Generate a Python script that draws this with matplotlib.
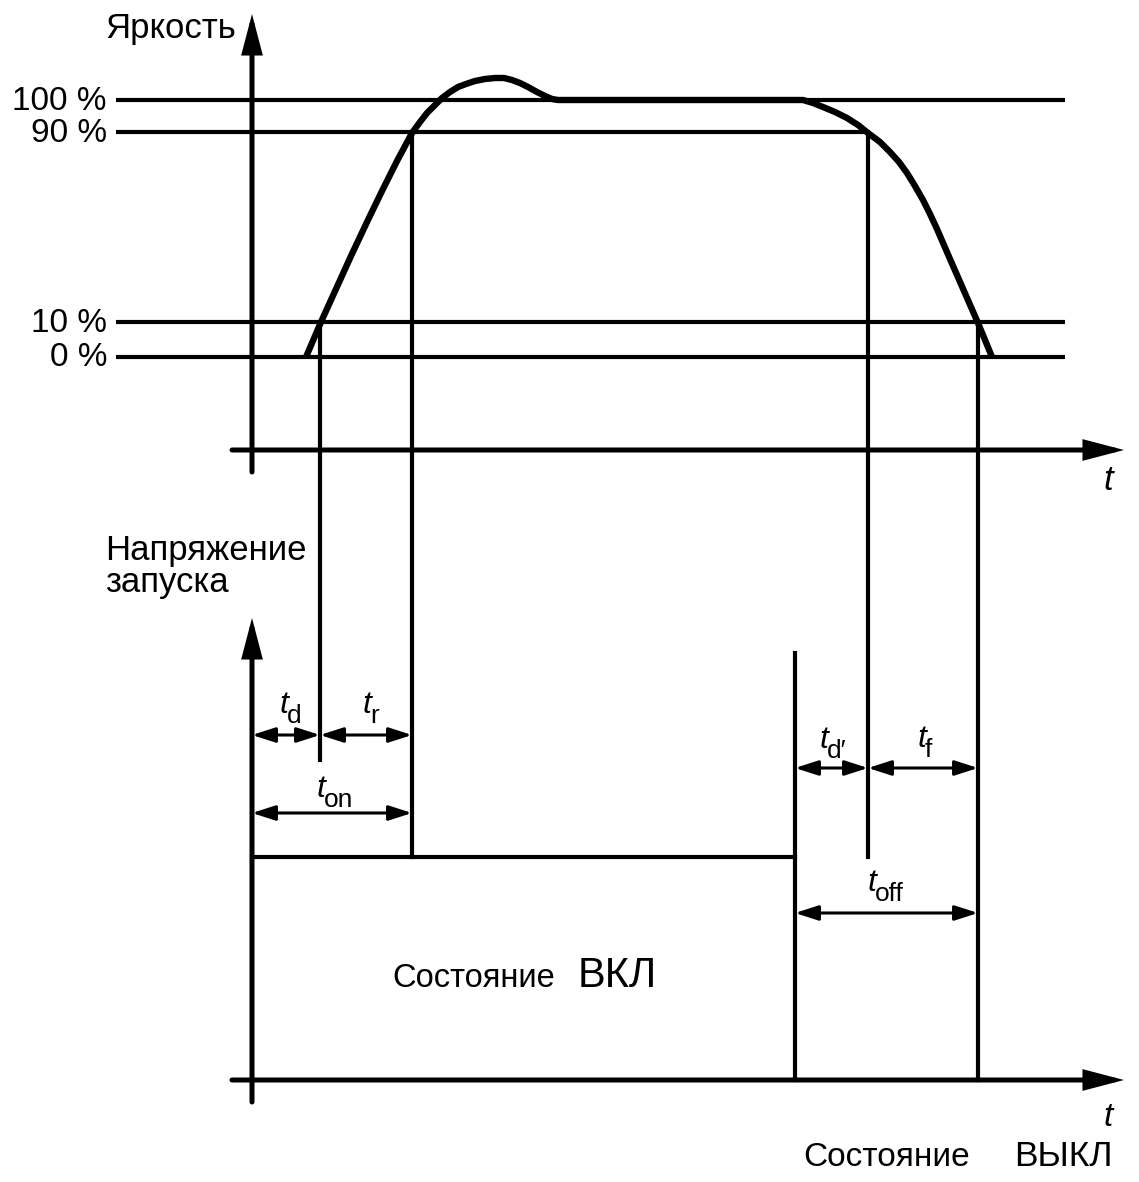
import matplotlib
matplotlib.use('Agg')
import matplotlib.pyplot as plt

plt.rcParams['font.family'] = ['Liberation Sans', 'DejaVu Sans']

# brightness levels (labels and their heights on the drawing)
level_labels = ['100 %', '90 %', '10 %', '0 %']
level_y = [100, 132, 322, 357]

# characteristic time instants (x on the drawing)
t_trig_on = 252
t_rise10 = 320
t_rise90 = 412
t_trig_off = 795
t_fall90 = 868
t_fall10 = 978

# brightness curve
curve_x = [306, 321, 336, 351, 367, 382, 397, 412, 420, 427, 435, 442, 450,
           458, 466, 475, 485, 495, 504, 512, 520, 528, 537, 545, 552, 558,
           803, 813, 823, 835, 847, 858, 868, 880, 890, 899, 907, 915, 923,
           930, 937, 950, 964, 978, 992]
curve_y = [357, 322, 289, 256, 222, 191, 161, 133, 122, 113, 105, 98, 92,
           87, 84, 81, 79, 78, 78, 80, 83, 87, 92, 96, 99, 100,
           100, 103, 107, 112, 118, 125, 133, 142, 152, 162, 173, 186, 200,
           214, 229, 259, 291, 323, 357]

upper_axis_y = 450
lower_axis_y = 1080
pulse_high_y = 857

fig = plt.figure(figsize=(11.39, 11.82), dpi=100)
ax = fig.add_axes([0, 0, 1, 1])
ax.set_xlim(0, 1139)
ax.set_ylim(1182, 0)
ax.axis('off')

LW = 3.0
AX_LW = 3.6


def axis_arrow(x0, y0, x1, y1):
    ax.annotate('', xy=(x1, y1), xytext=(x0, y0),
                arrowprops=dict(arrowstyle='-|>,head_length=21,head_width=5.5',
                                mutation_scale=1, lw=AX_LW, color='black',
                                shrinkA=0, shrinkB=0, joinstyle='miter'))


def dim_arrow(x0, x1, y):
    ax.annotate('', xy=(x1, y), xytext=(x0, y),
                arrowprops=dict(arrowstyle='<|-|>,head_length=14,head_width=4.5',
                                mutation_scale=1, lw=2.2, color='black',
                                shrinkA=0, shrinkB=0))


def t_label(x, y, sub):
    ax.text(x + 1, y, 't', style='italic', fontsize=23, ha='right', va='baseline')
    ax.text(x, y + 10, sub, fontsize=19, ha='left', va='baseline')


# upper diagram: brightness
axis_arrow(t_trig_on, 472, t_trig_on, 14)
axis_arrow(232, upper_axis_y, 1124, upper_axis_y)
ax.text(105, 38, 'Яркость', fontsize=25, ha='left', va='baseline')

for lab, y in zip(level_labels, level_y):
    x_end = t_fall90 if lab == '90 %' else 1065
    ax.plot([116, x_end], [y, y], color='black', lw=LW, solid_capstyle='butt')
    ax.text(107, y + 1, lab, fontsize=24, ha='right', va='center')

ax.plot(curve_x, curve_y, color='black', lw=4.6,
        solid_joinstyle='round', solid_capstyle='butt')
ax.text(1108, 490, 't', style='italic', fontsize=25, ha='center', va='baseline')

# vertical reference lines
ax.plot([t_rise10, t_rise10], [level_y[2], 760], color='black', lw=LW)
ax.plot([t_rise90, t_rise90], [level_y[1], pulse_high_y], color='black', lw=LW)
ax.plot([t_fall90, t_fall90], [level_y[1], pulse_high_y], color='black', lw=LW)
ax.plot([t_fall10, t_fall10], [level_y[2], lower_axis_y], color='black', lw=LW)

# lower diagram: trigger voltage
axis_arrow(t_trig_on, 1102, t_trig_on, 618)
axis_arrow(232, lower_axis_y, 1124, lower_axis_y)
ax.text(105, 560, 'Напряжение', fontsize=25, ha='left', va='baseline')
ax.text(105, 592, 'запуска', fontsize=25, ha='left', va='baseline')

ax.plot([t_trig_on, t_trig_off], [pulse_high_y, pulse_high_y], color='black', lw=LW)
ax.plot([t_trig_off, t_trig_off], [653, lower_axis_y], color='black', lw=LW)

dim_arrow(t_trig_on, t_rise10, 735)
dim_arrow(t_rise10, t_rise90, 735)
dim_arrow(t_trig_on, t_rise90, 813)
dim_arrow(t_trig_off, t_fall90, 768)
dim_arrow(t_fall90, t_fall10, 768)
dim_arrow(t_trig_off, t_fall10, 913)

t_label(287, 713, 'd')
t_label(370, 713, 'r')
t_label(324, 797, 'on')
t_label(827, 748, "d\u2032")
t_label(925, 747, 'f')
t_label(875, 891, 'off')

ax.text(1108, 1126, 't', style='italic', fontsize=24, ha='center', va='baseline')

ax.text(392, 987, 'Состояние', fontsize=23.5, ha='left', va='baseline')
ax.text(578, 987, 'ВКЛ', fontsize=30, ha='left', va='baseline')
ax.text(803, 1166, 'Состояние', fontsize=24, ha='left', va='baseline')
ax.text(1113, 1166, 'ВЫКЛ', fontsize=25.5, ha='right', va='baseline')

fig.savefig('out.png', dpi=100)
